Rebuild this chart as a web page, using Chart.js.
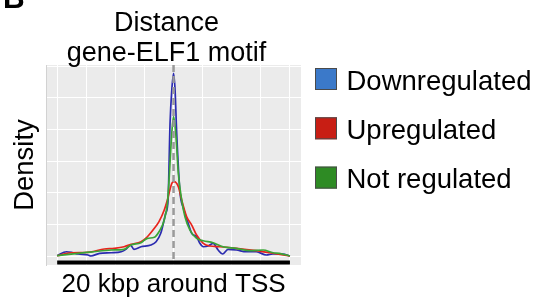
<!DOCTYPE html>
<html>
<head>
<meta charset="utf-8">
<script src="https://cdn.jsdelivr.net/npm/chart.js@4"></script>
<style>
  html, body { margin: 0; padding: 0; background: #fff; }
  #wrap { width: 544px; height: 304px; }
</style>
</head>
<body>
<div id="wrap"><canvas id="canvasDensity" width="544" height="304"></canvas></div>
<script>
// values: position around the TSS (kbp) and density
const downKbp = [-10, -9.2, -8.65, -8.2, -7.35, -7.1, -6.35, -5.35, -4.5, -4.1, -3.7, -3.4, -2.8, -1.95, -1.5, -1.1, -0.67, -0.47, -0.3, -0.15, 0, 0.13, 0.27, 0.56, 0.84, 1.26, 1.56, 1.98, 2.26, 2.55, 2.97, 3.4, 3.83, 4.21, 4.68, 5.4, 6.26, 7.11, 7.97, 8.53, 9.38, 10]
const downDensity = [0.0005, 0.0068, 0.0052, 0.0032, 0.0016, 0.0, 0.0043, 0.0052, 0.0068, 0.0106, 0.0174, 0.0106, 0.0147, 0.0174, 0.0226, 0.0359, 0.0676, 0.0886, 0.2104, 0.2627, 0.289, 0.2627, 0.1946, 0.0997, 0.076, 0.0517, 0.0359, 0.0305, 0.0201, 0.0147, 0.0158, 0.0201, 0.0095, 0.0032, 0.0106, 0.0095, 0.0068, 0.0068, 0.0016, 0.0032, 0.0032, 0]

const upKbp = [-10, -8.8, -7.35, -5.95, -5.1, -4.25, -3.65, -2.8, -2.25, -1.65, -1.25, -0.8, -0.53, -0.15, 0.04, 0.41, 0.7, 1.13, 1.56, 1.98, 2.55, 3.12, 3.97, 5.4, 7.1, 8.25, 10]
const upDensity = [0.0005, 0.0052, 0.0059, 0.0111, 0.0122, 0.0147, 0.0185, 0.0226, 0.0305, 0.0438, 0.0543, 0.0728, 0.0886, 0.115, 0.1176, 0.1097, 0.0886, 0.062, 0.049, 0.0332, 0.0201, 0.0158, 0.0147, 0.0122, 0.0084, 0.0052, 0]

const notKbp = [-10, -8.2, -7.1, -5.35, -4.25, -3.65, -2.8, -2.25, -1.65, -1.25, -0.8, -0.53, -0.44, -0.15, 0, 0.21, 0.41, 0.7, 0.98, 1.41, 1.98, 2.55, 3.4, 4.25, 5.4, 6.55, 7.7, 8.55, 9.1, 10]
const notDensity = [0.0005, 0.0043, 0.0063, 0.0095, 0.0106, 0.0174, 0.021, 0.028, 0.0296, 0.0384, 0.057, 0.0834, 0.1044, 0.1946, 0.2204, 0.1888, 0.1309, 0.0886, 0.0622, 0.0411, 0.028, 0.0242, 0.021, 0.0147, 0.0122, 0.0084, 0.0095, 0.0052, 0.0043, 0]

const seriesNames = ["Downregulated", "Upregulated", "Not regulated"]
const xTicks = [-10, -7.5, -5, -2.5, 0, 2.5, 5, 7.5, 10]
const yTicks = [0, 0.05, 0.1, 0.15, 0.2, 0.25, 0.3]
const tssPosition = 0
const titleLines = ["Distance", "gene-ELF1 motif"]

const FONT = "'Liberation Sans', Arial, sans-serif"

//#region helpers
ToPoints = (xs, ys) => xs.map((x, i) => ({ x, y: ys[i] }))
//#endregion

//#region plugins
const panelBackground = {
    id: "panelBackground",
    beforeDraw: chart => {
        const { ctx, chartArea: a } = chart
        ctx.save()
        ctx.fillStyle = "#ebebeb"
        ctx.fillRect(a.left, a.top, a.width, a.height)
        ctx.restore()
    }
}

const tssLine = {
    id: "tssLine",
    afterDatasetsDraw: chart => {
        const { ctx, chartArea: a, scales } = chart
        const px = scales.x.getPixelForValue(tssPosition)
        ctx.save()
        ctx.strokeStyle = "#9a9a9a"
        ctx.lineWidth = 2.5
        ctx.setLineDash([7, 4])
        ctx.beginPath()
        ctx.moveTo(px, a.top)
        ctx.lineTo(px, a.bottom - 4)
        ctx.stroke()

        // black bar under the 20 kbp window
        ctx.setLineDash([])
        ctx.strokeStyle = "#000"
        ctx.lineWidth = 4
        ctx.beginPath()
        ctx.moveTo(scales.x.getPixelForValue(xTicks[0]), a.bottom - 2.5)
        ctx.lineTo(scales.x.getPixelForValue(xTicks[xTicks.length - 1]), a.bottom - 2.5)
        ctx.stroke()
        ctx.restore()
    }
}

const headerAndKey = {
    id: "headerAndKey",
    afterDraw: chart => {
        const { ctx } = chart
        ctx.save()
        ctx.fillStyle = "#000"
        ctx.textBaseline = "alphabetic"

        ctx.font = "bold 30px " + FONT
        ctx.textAlign = "left"
        ctx.fillText("B", 3, 8)

        ctx.font = "27px " + FONT
        ctx.textAlign = "center"
        titleLines.forEach((line, i) => ctx.fillText(line, 166.5, 30.5 + i * 30.5))

        ctx.font = "27.5px " + FONT
        ctx.textAlign = "left"
        chart.data.datasets.forEach((ds, i) => {
            const top = 68 + i * 49.3
            ctx.fillStyle = ds.keyColor
            ctx.fillRect(315, top, 22, 22)
            ctx.strokeStyle = "#4a4a4a"
            ctx.lineWidth = 1
            ctx.strokeRect(315.5, top + 0.5, 21, 21)
            ctx.fillStyle = "#000"
            ctx.fillText(ds.label, 346.5, top + 21.5)
        })
        ctx.restore()
    }
}
//#endregion

//#region ChartJs
CreateChart = canvas => {
    new Chart(canvas, {
        type: "line",
        data: {
            datasets: [
                { label: seriesNames[0], data: ToPoints(downKbp, downDensity), borderColor: "#2b2bb0", keyColor: "#3b79c9", order: 2 },
                { label: seriesNames[1], data: ToPoints(upKbp, upDensity), borderColor: "#e8241c", keyColor: "#c81e14", order: 1 },
                { label: seriesNames[2], data: ToPoints(notKbp, notDensity), borderColor: "#3aa536", keyColor: "#2e8b24", order: 0 }
            ]
        },
        options: {
            responsive: false,
            animation: false,
            layout: { padding: { top: 65, right: 243, left: 0, bottom: 0 } },
            elements: {
                point: { radius: 0 },
                line: { borderWidth: 1.7, cubicInterpolationMode: "monotone", fill: false }
            },
            plugins: {
                legend: { display: false },
                tooltip: { enabled: false }
            },
            scales: {
                x: {
                    type: "linear",
                    min: -10.95,
                    max: 10.95,
                    afterBuildTicks: scale => { scale.ticks = xTicks.map(value => ({ value })) },
                    ticks: { display: false },
                    grid: { color: "#ffffff", lineWidth: 1, drawTicks: false },
                    border: { display: false },
                    title: {
                        display: true,
                        text: "20 kbp around TSS",
                        color: "#000",
                        font: { family: FONT, size: 26 },
                        padding: { top: 4.4, bottom: 3.4 }
                    }
                },
                y: {
                    type: "linear",
                    min: -0.0142,
                    max: 0.3022,
                    afterBuildTicks: scale => { scale.ticks = yTicks.map(value => ({ value })) },
                    ticks: { display: false },
                    grid: { color: "#ffffff", lineWidth: 1, drawTicks: false },
                    border: { display: true, color: "#d2d2d2", width: 1 },
                    title: {
                        display: true,
                        text: "Density",
                        color: "#000",
                        font: { family: FONT, size: 27.5 },
                        padding: { top: 9.4, bottom: 3.7 }
                    }
                }
            }
        },
        plugins: [panelBackground, tssLine, headerAndKey]
    })
}
//#endregion

CreateChart(document.getElementById("canvasDensity"))
</script>
</body>
</html>
